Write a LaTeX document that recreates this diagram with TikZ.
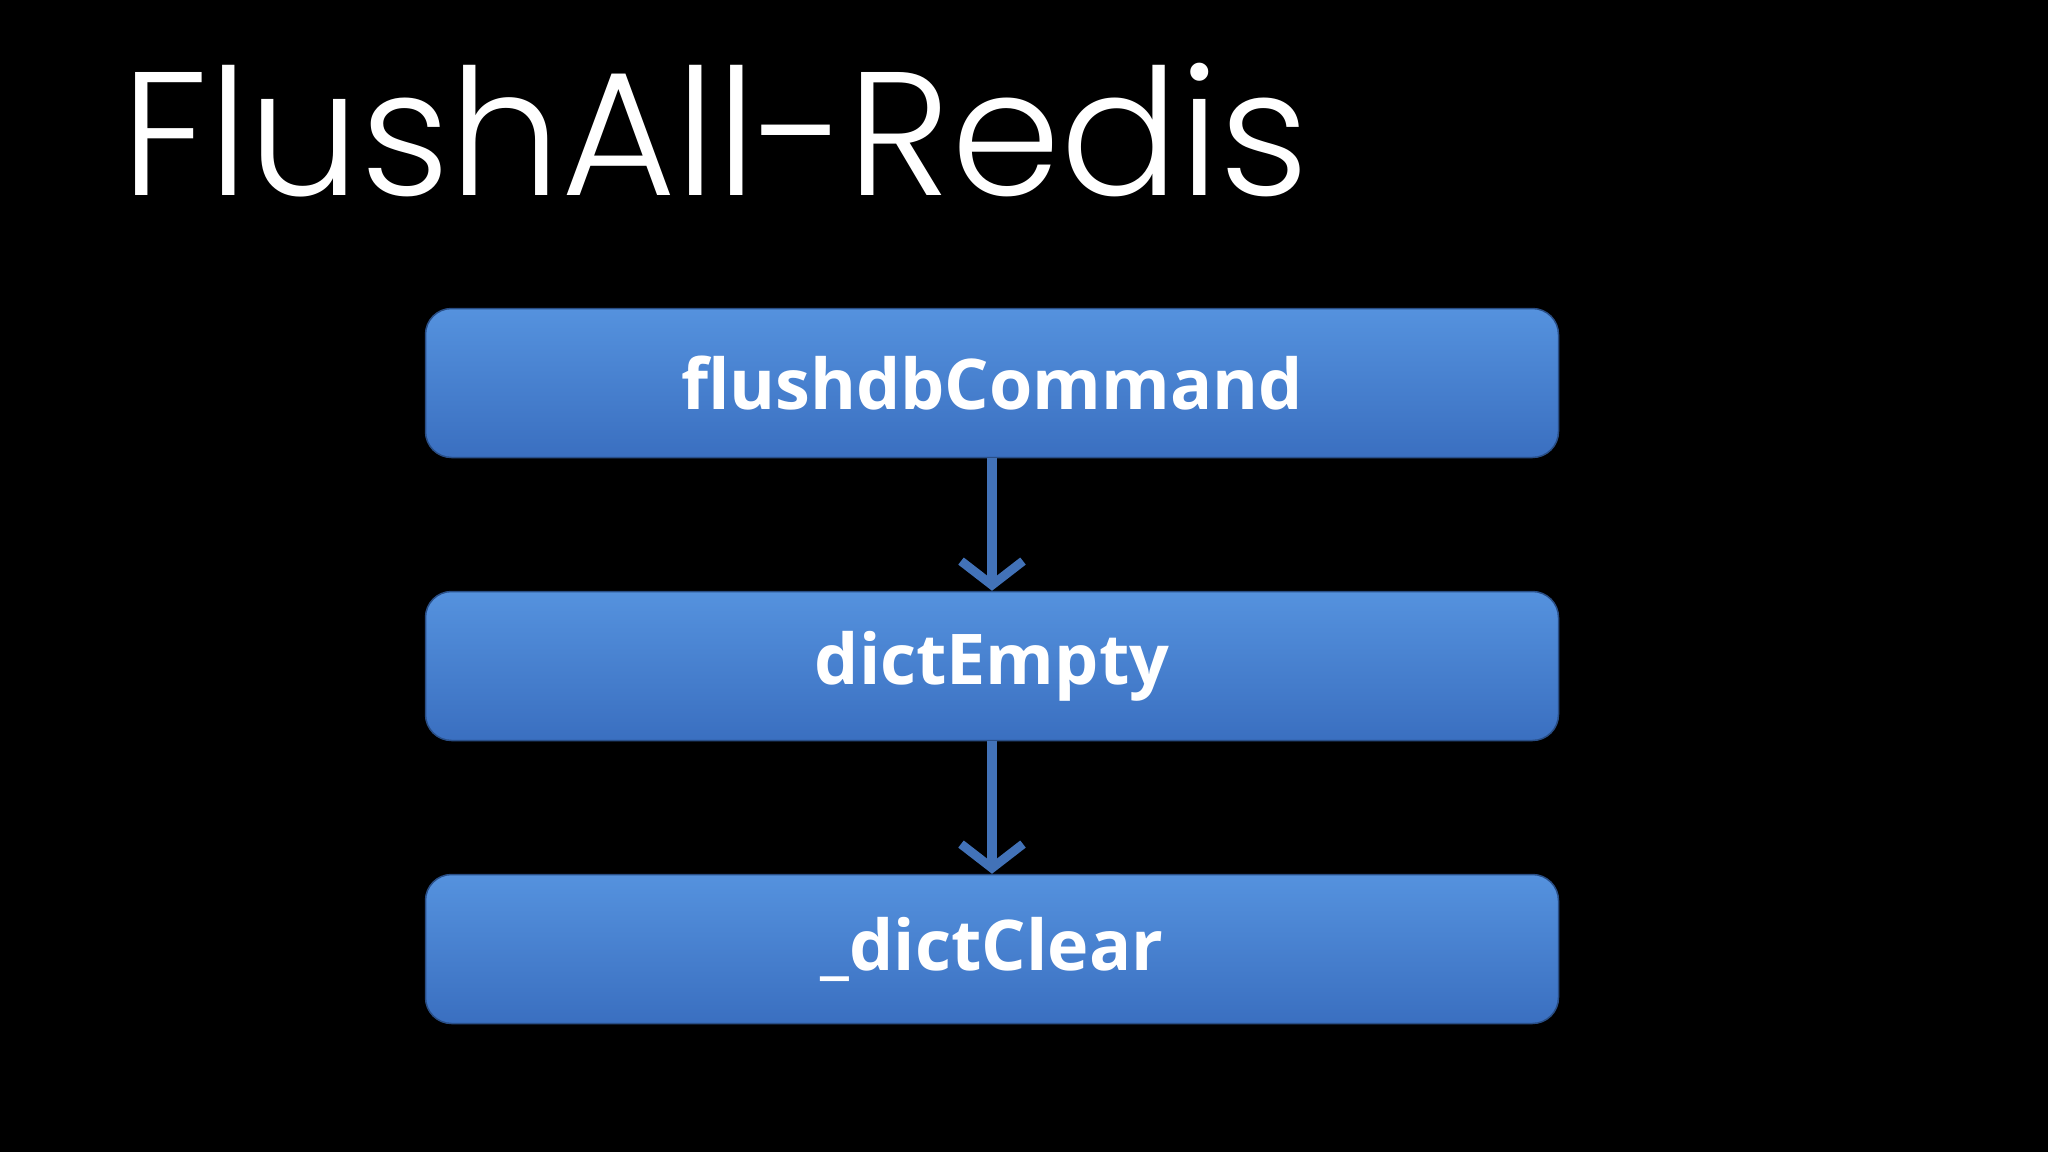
\documentclass[tikz,border=0pt]{standalone}
\usepackage{fontspec}
\setmainfont{Open Sans}
\newfontfamily\titlefont{Poppins Light}
\usetikzlibrary{arrows.meta,shadings}
\definecolor{boxtop}{HTML}{5592DE}
\definecolor{boxbot}{HTML}{3A6FC0}
\definecolor{arr}{HTML}{4272B8}
\tikzset{
  box/.style={rounded corners=26pt, top color=boxtop, bottom color=boxbot, draw=boxbot!70!black, line width=1.5pt,
    minimum width=1133pt, minimum height=149pt, text=white, font=\fontsize{70}{80}\selectfont\bfseries},
  conn/.style={draw=arr, line width=10pt, -{Straight Barb[length=24pt,width=62pt,line width=9pt]}}
}
\begin{document}
\begin{tikzpicture}[x=1pt,y=-1pt]
\fill[black] (0,0) rectangle (2048,1152);
\useasboundingbox (0,0) rectangle (2048,1152);
\node[anchor=west, text=white, font=\titlefont\fontsize{176}{180}\selectfont] (title) at (118,130) {FlushAll-Redis};
\node[box] (a) at (992,383) {flushdbCommand};
\node[box] (b) at (992,666) {dictEmpty};
\node[box] (c) at (992,949) {\_dictClear};
\draw[conn] (a.south) -- (b.north);
\draw[conn] (b.south) -- (c.north);
\end{tikzpicture}
\end{document}
